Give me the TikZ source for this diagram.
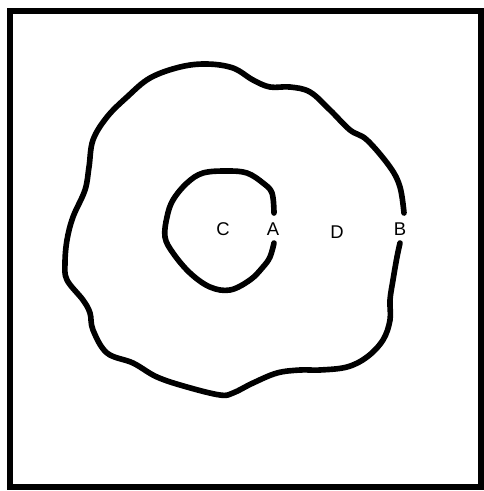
\documentclass[tikz,border=0pt]{standalone}
\usepackage{fontspec}
\setmainfont{Liberation Sans}
\usepackage{tikz}

\begin{document}
\begin{tikzpicture}[
    x=0.02cm,y=-0.02cm,
    frame/.style={draw,line width=3.6pt},
    contour/.style={line width=3.2pt,line cap=round,line join=round},
    lbl/.style={font=\fontsize{10.5}{12}\selectfont,inner sep=1pt}
]
\useasboundingbox (0,0) rectangle (484,491);
\draw[frame] (10,11) rectangle (481,487);

% outer region, open at B
\draw[contour] plot[smooth,tension=0.6] coordinates {
  (404,213) (400,187) (390,167) (367,140) (350,130) (330,110) (310,92)
  (290,87) (270,87) (253,80) (233,68) (207,64) (180,67) (150,78)
  (127,97) (107,117) (93,140) (89,167) (85,190) (73,217) (67,240)
  (65,263) (67,280) (83,300) (90,313) (93,330) (107,353) (133,363)
  (157,377) (187,387) (220,395) (233,393) (253,383) (277,373)
  (300,370) (320,370) (347,367) (367,357) (383,340) (390,320)
  (390,300) (393,280) (397,257) (400,243)};

% inner region, open at A
\draw[contour] plot[smooth,tension=0.6] coordinates {
  (274,213) (272,193) (263,183) (247,173) (227,171) (203,173)
  (187,183) (173,200) (167,217) (165,237) (173,253) (190,273)
  (210,287) (230,290) (250,280) (263,267) (270,257) (274,243)};

\node[lbl] (C) at (223,229) {C};
\node[lbl] (A) at (273,229) {A};
\node[lbl] (D) at (337,232) {D};
\node[lbl] (B) at (400,229) {B};
\end{tikzpicture}
\end{document}
